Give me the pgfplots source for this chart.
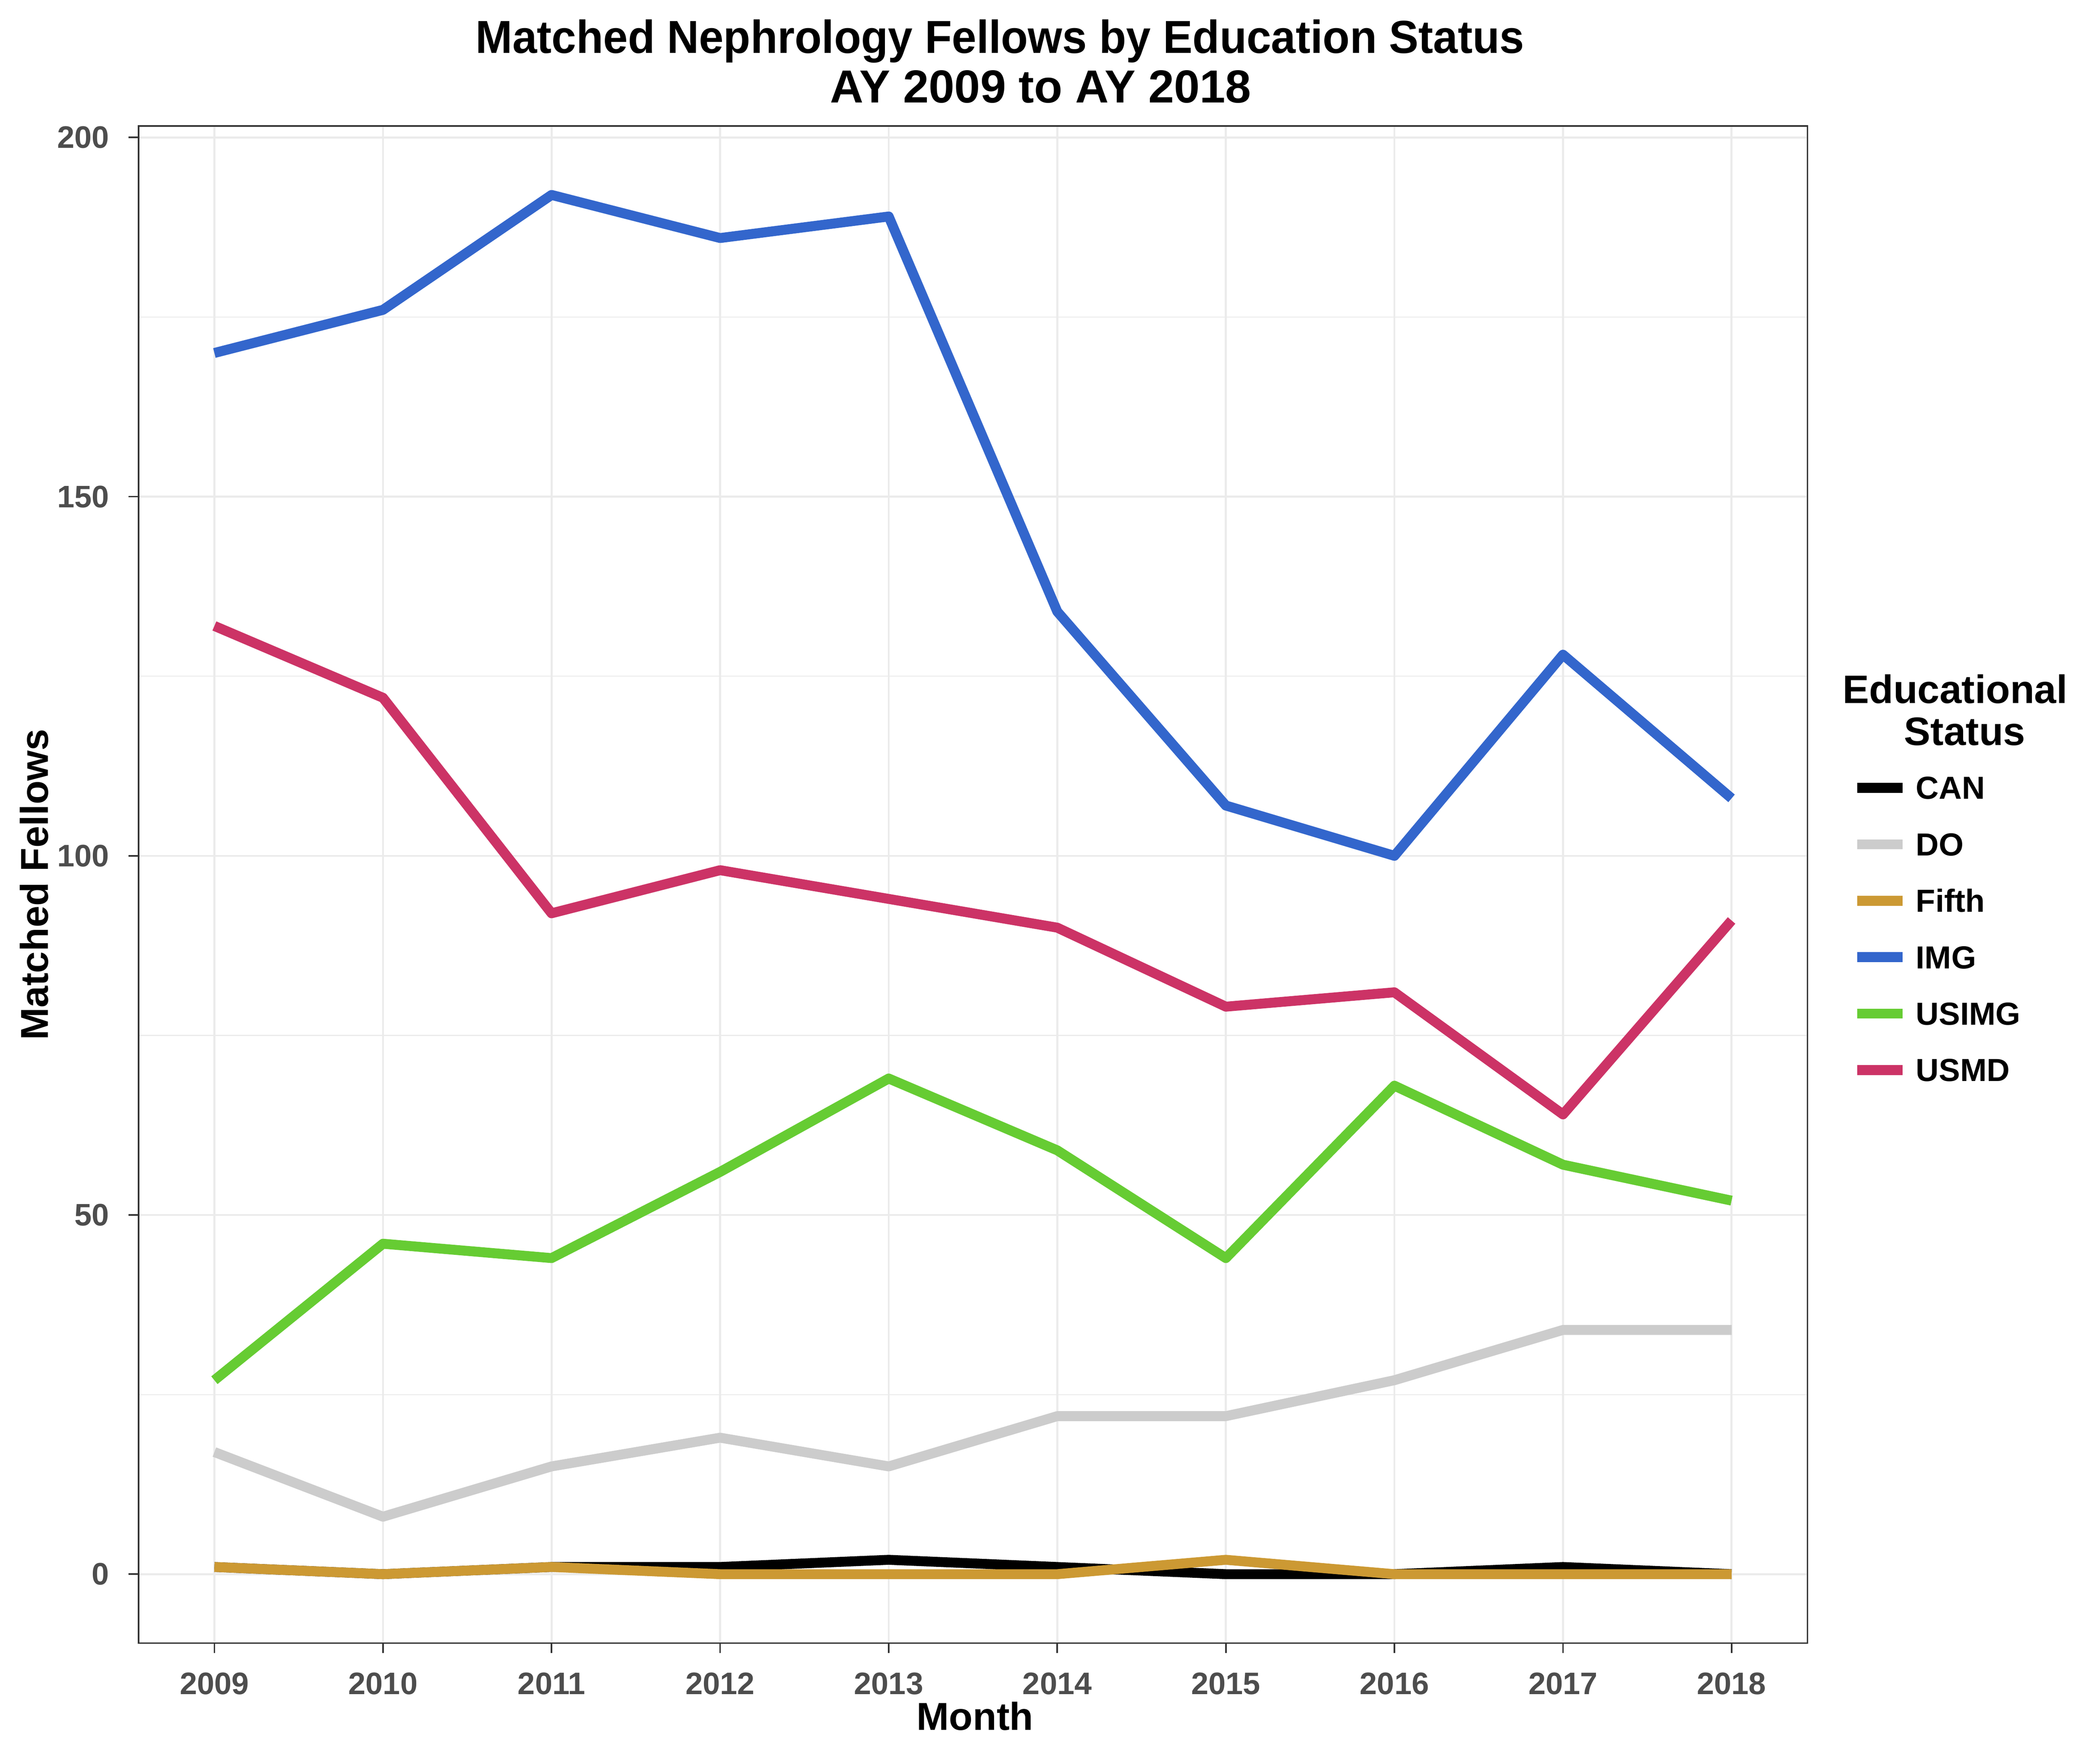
\documentclass[border=0pt]{standalone}
\usepackage{fontspec}
\setmainfont{Liberation Sans}
\usepackage{graphicx}
\usepackage{pgfplots}
\pgfplotsset{compat=1.18}

\definecolor{cCAN}{HTML}{000000}
\definecolor{cDO}{HTML}{CCCCCC}
\definecolor{cFifth}{HTML}{CC9933}
\definecolor{cIMG}{HTML}{3366CC}
\definecolor{cUSIMG}{HTML}{66CC33}
\definecolor{cUSMD}{HTML}{CC3366}
\definecolor{gridc}{HTML}{EBEBEB}
\definecolor{borderc}{HTML}{333333}
\definecolor{tickc}{HTML}{4D4D4D}

\begin{document}
\begin{tikzpicture}
\path[use as bounding box] (-35.625pt,-27.45pt) rectangle (504.375pt,422.55pt);
\begin{axis}[
  at={(0,0)}, anchor=south west,
  scale only axis,
  width=429.15pt, height=390.15pt,
  xmin=2008.55, xmax=2018.45,
  ymin=-9.6, ymax=201.6,
  xtick={2009,2010,2011,2012,2013,2014,2015,2016,2017,2018},
  ytick={0,50,100,150,200},
  minor ytick={25,75,125,175},
  grid=both,
  major grid style={color=gridc, line width=0.5pt},
  minor grid style={color=gridc, line width=0.25pt},
  axis line style={color=borderc, line width=0.4pt},
  tick pos=left, tick align=outside,
  major tick length=2.55pt, minor tick length=0pt,
  tick style={color=borderc, line width=0.4pt},
  /pgf/number format/assume math mode=true,
  /pgf/number format/1000 sep={},
  ticklabel style={font=\fontsize{8}{9.6}\selectfont\bfseries, text=tickc, inner sep=0pt},
  xticklabel style={yshift=-4.8pt},
  yticklabel style={xshift=-4.8pt},
  legend cell align=left,
  legend image code/.code={\draw[#1] (0pt,0pt) -- (11.6pt,0pt);},
  legend style={draw=none, fill=none, at={(1.0269,0.5712)}, anchor=north west,
    inner sep=0pt, outer sep=0pt, row sep=8.72pt,
    font=\fontsize{8.2}{9.8}\selectfont\bfseries,
    nodes={inner sep=0pt, text height=5.8pt, text depth=0pt},
    /tikz/every odd column/.append style={column sep=2.2pt}},
  every axis plot/.append style={line width=2.55pt, line join=round},
]
\addplot[cCAN] coordinates {
  (2009,1) (2010,0) (2011,1) (2012,1) (2013,2)
  (2014,1) (2015,0) (2016,0) (2017,1) (2018,0)};
\addplot[cDO] coordinates {
  (2009,17) (2010,8) (2011,15) (2012,19) (2013,15)
  (2014,22) (2015,22) (2016,27) (2017,34) (2018,34)};
\addplot[cFifth] coordinates {
  (2009,1) (2010,0) (2011,1) (2012,0) (2013,0)
  (2014,0) (2015,2) (2016,0) (2017,0) (2018,0)};
\addplot[cIMG] coordinates {
  (2009,170) (2010,176) (2011,192) (2012,186) (2013,189)
  (2014,134) (2015,107) (2016,100) (2017,128) (2018,108)};
\addplot[cUSIMG] coordinates {
  (2009,27) (2010,46) (2011,44) (2012,56) (2013,69)
  (2014,59) (2015,44) (2016,68) (2017,57) (2018,52)};
\addplot[cUSMD] coordinates {
  (2009,132) (2010,122) (2011,92) (2012,98) (2013,94)
  (2014,90) (2015,79) (2016,81) (2017,64) (2018,91)};
\legend{CAN,DO,Fifth,IMG,USIMG,USMD}
\end{axis}
% titles
\node[anchor=base, font=\fontsize{11.9}{14}\selectfont\bfseries] at (221.5pt,408.9pt)
  {\scalebox{0.955}[1]{Matched Nephrology Fellows by Education Status}};
\node[anchor=base, font=\fontsize{11.9}{14}\selectfont\bfseries] at (232pt,396.1pt)
  {AY 2009 to AY 2018};
\node[anchor=base, font=\fontsize{10}{12}\selectfont\bfseries] at (215.1pt,-22.4pt) {Month};
\node[anchor=base, rotate=90, font=\fontsize{10}{12}\selectfont\bfseries] at (-23.3pt,195.1pt)
  {Matched Fellows};
\node[anchor=base, font=\fontsize{10.2}{12}\selectfont\bfseries] at (467.1pt,241.65pt) {Educational};
\node[anchor=base, font=\fontsize{10.2}{12}\selectfont\bfseries] at (469.6pt,230.85pt) {Status};
\end{tikzpicture}
\end{document}
